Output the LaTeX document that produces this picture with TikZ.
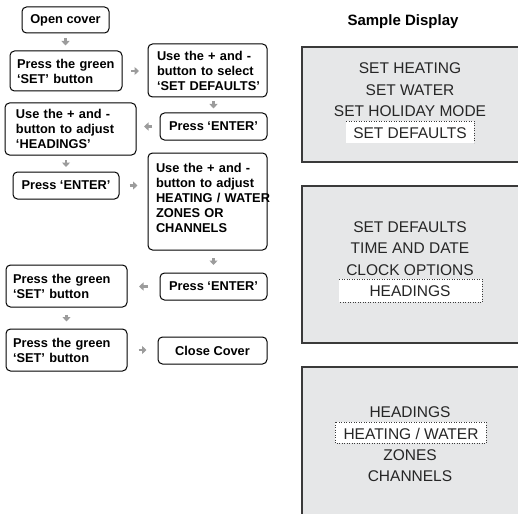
\documentclass[tikz,border=0pt]{standalone}
\usepackage{fontspec}
\setmainfont{Liberation Sans}
\usetikzlibrary{arrows.meta,calc}
\definecolor{arrowgray}{HTML}{9C9C9C}
\definecolor{lcdfill}{HTML}{E6E7E8}
\definecolor{lcdline}{HTML}{3A3A3A}
\definecolor{lcdtext}{HTML}{262626}
\begin{document}
\begin{tikzpicture}[x=1pt,y=-1pt,
  stepbox/.style={draw=black, line width=1pt, rounded corners=4.5pt, inner sep=0pt,
    font=\fontsize{12.8}{15}\selectfont\bfseries},
  multibox/.style={stepbox, align=left},
  flowarrow/.style={draw=arrowgray, line width=2.6pt, -{Triangle[length=4.5pt,width=8pt]}},
  lcdframe/.style={draw=lcdline, fill=lcdfill, line width=1.4pt},
  lcdtxt/.style={anchor=base, inner sep=0pt, text=lcdtext, font=\fontsize{15.5}{18}\selectfont},
  selbox/.style={draw=lcdline, line width=0.5pt, dotted},
]
\useasboundingbox (0,0) rectangle (518,513);

% ---------- flow chart ----------
\node[stepbox, minimum width=87pt, minimum height=26pt] (open) at (65.5,20) {Open cover};
\node[multibox, text width=98pt, minimum width=112pt, minimum height=40pt] (set1) at (66,71)
  {\mbox{Press the green}\\\mbox{‘SET’ button}};
\node[multibox, text width=101pt, minimum width=119pt, minimum height=53pt] (select) at (207.5,70.5)
  {\mbox{Use the + and -}\\\mbox{button to select}\\\mbox{‘SET DEFAULTS’}};
\node[stepbox, minimum width=107pt, minimum height=27pt] (enter1) at (213.5,126.5) {Press ‘ENTER’};
\node[multibox, text width=109pt, minimum width=131pt, minimum height=52pt] (heads) at (70.5,129)
  {\mbox{Use the + and -}\\\mbox{button to adjust}\\\mbox{‘HEADINGS’}};
\node[stepbox, minimum width=106pt, minimum height=27pt] (enter2) at (66,185.5) {Press ‘ENTER’};
\node[multibox, text width=103pt, minimum width=119pt, minimum height=97pt] (heating) at (207.5,201.5)
  {\mbox{Use the + and -}\\\mbox{button to adjust}\\\mbox{HEATING / WATER}\\\mbox{ZONES OR}\\\mbox{CHANNELS}\\[-8pt]\mbox{}};
\node[stepbox, minimum width=107pt, minimum height=27pt] (enter3) at (213.5,286.5) {Press ‘ENTER’};
\node[multibox, text width=107pt, minimum width=121pt, minimum height=42pt] (set2) at (66.5,286)
  {\mbox{Press the green}\\\mbox{‘SET’ button}};
\node[multibox, text width=107pt, minimum width=121pt, minimum height=42pt] (set3) at (66.5,350)
  {\mbox{Press the green}\\\mbox{‘SET’ button}};
\node[stepbox, minimum width=109pt, minimum height=27pt] (close) at (212.5,350.5) {Close Cover};

\draw[flowarrow, shorten <=5pt, shorten >=5pt] (open.south) -- (open.south |- set1.north);
\draw[flowarrow, shorten <=8.5pt, shorten >=8.5pt] (set1.east) -- (set1.east -| select.west);
\draw[flowarrow, shorten <=4pt, shorten >=4pt] (enter1.north |- select.south) -- (enter1.north);
\draw[flowarrow, shorten <=7.5pt, shorten >=7.5pt] (enter1.west) -- (enter1.west -| heads.east);
\draw[flowarrow, shorten <=4.5pt, shorten >=4.5pt] (enter2.north |- heads.south) -- (enter2.north);
\draw[flowarrow, shorten <=10pt, shorten >=10pt] (enter2.east) -- (enter2.east -| heating.west);
\draw[flowarrow, shorten <=7.5pt, shorten >=7.5pt] (enter3.north |- heating.south) -- (enter3.north);
\draw[flowarrow, shorten <=11.5pt, shorten >=11.5pt] (enter3.west) -- (enter3.west -| set2.east);
\draw[flowarrow, shorten <=7pt, shorten >=7pt] (set2.south) -- (set2.south |- set3.north);
\draw[flowarrow, shorten <=11pt, shorten >=11pt] (set3.east) -- (set3.east -| close.west);

% ---------- sample display ----------
\node[anchor=base, inner sep=0pt, font=\fontsize{15}{18}\selectfont\bfseries] (title) at (403,26) {Sample Display};

\draw[lcdframe] (302,47) rectangle (540,162);
\fill[white] (346,121) rectangle (474,143);
\draw[selbox] (346,121) -- (474,121) -- (474,143);
\node[lcdtxt] (d1a) at (410,74) {SET HEATING};
\node[lcdtxt] (d1b) at (410,95.3) {SET WATER};
\node[lcdtxt] (d1c) at (410,116.7) {SET HOLIDAY MODE};
\node[lcdtxt] (d1d) at (410,138.2) {SET DEFAULTS};

\draw[lcdframe] (302,186) rectangle (540,343);
\fill[white] (339,279) rectangle (482,302);
\draw[selbox] (339,279) -- (482,279) -- (482,302) -- (339,302);
\node[lcdtxt] (d2a) at (410,232.3) {SET DEFAULTS};
\node[lcdtxt] (d2b) at (410,253.5) {TIME AND DATE};
\node[lcdtxt] (d2c) at (410,275) {CLOCK OPTIONS};
\node[lcdtxt] (d2d) at (410,296.2) {HEADINGS};

\draw[lcdframe] (302,367) rectangle (540,530);
\fill[white] (335,422) rectangle (486,443);
\draw[selbox] (335,422) rectangle (486,443);
\node[lcdtxt] (d3a) at (410,417.3) {HEADINGS};
\node[lcdtxt] (d3b) at (411,439.5) {HEATING / WATER};
\node[lcdtxt] (d3c) at (410,460.7) {ZONES};
\node[lcdtxt] (d3d) at (410,481.7) {CHANNELS};
\end{tikzpicture}
\end{document}
